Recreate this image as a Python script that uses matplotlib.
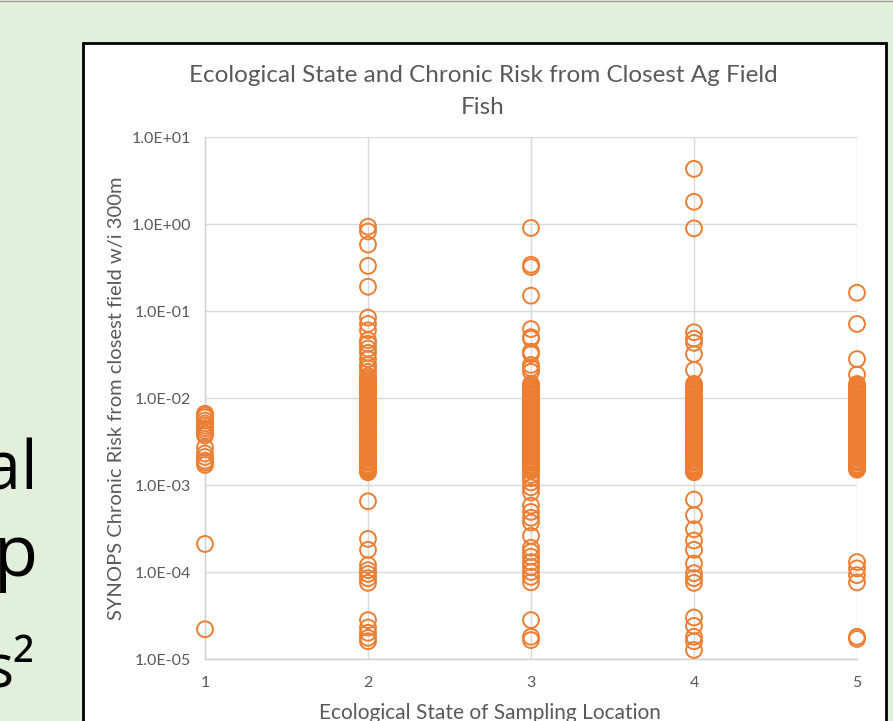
import matplotlib
matplotlib.use("Agg")
import matplotlib.pyplot as plt
import numpy as np
from matplotlib.patches import Rectangle
from matplotlib.lines import Line2D

plt.rcParams['font.family'] = ['Lato', 'DejaVu Sans']

# ---------------- data ----------------
categories = [1, 2, 3, 4, 5]
x_tick_labels = ["1", "2", "3", "4", "5"]
y_tick_values = [1e-5, 1e-4, 1e-3, 1e-2, 1e-1, 1e0, 1e1]
y_tick_labels = ["1.0E-05", "1.0E-04", "1.0E-03", "1.0E-02", "1.0E-01", "1.0E+00", "1.0E+01"]

risk_state1 = [6.6e-3, 6.3e-3, 6.0e-3, 5.5e-3, 5.1e-3, 4.8e-3, 4.5e-3, 4.2e-3,
               3.9e-3, 3.7e-3, 2.7e-3, 2.3e-3, 2.1e-3, 1.9e-3, 1.8e-3, 1.7e-3,
               2.1e-4, 2.2e-5]

risk_state2 = [0.93, 0.82, 0.58, 0.33, 0.19, 0.084, 0.071, 0.060, 0.046, 0.042,
               0.037, 0.033, 0.028, 0.024, 0.022, 0.020, 0.018, 0.017, 0.016,
               0.0152, 0.0145, 0.0139, 0.0134, 0.0128, 0.0123, 0.0118, 0.0113,
               0.0109, 0.0105, 0.0100, 0.0096, 0.0092, 0.0089, 0.0085, 0.0082,
               0.0078, 0.0075, 0.0072, 0.0069, 0.0067, 0.0064, 0.0061, 0.0059,
               0.0057, 0.0054, 0.0052, 0.0050, 0.0048, 0.0046, 0.0044, 0.0042,
               0.0041, 0.0039, 0.0037, 0.0036, 0.0035, 0.0033, 0.0032, 0.0030,
               0.0029, 0.0028, 0.0027, 0.0026, 0.0025, 0.0024, 0.0023, 0.0022,
               0.0021, 0.0020, 0.0019, 0.00185, 0.0018, 0.0017, 0.00165, 0.0016,
               0.00155, 0.0015, 0.00145, 0.0014,
               6.5e-4, 2.4e-4, 1.8e-4, 1.2e-4, 1.05e-4, 9.5e-5, 8.5e-5, 7.5e-5,
               2.8e-5, 2.3e-5, 2.0e-5, 1.75e-5, 1.6e-5]

risk_state3 = [0.90, 0.34, 0.32, 0.15, 0.062, 0.050, 0.048, 0.034, 0.032, 0.024,
               0.022, 0.020, 0.0145, 0.0139, 0.0134, 0.0128, 0.0123, 0.0118,
               0.0113, 0.0109, 0.0105, 0.0100, 0.0096, 0.0092, 0.0089, 0.0085,
               0.0082, 0.0078, 0.0075, 0.0072, 0.0069, 0.0067, 0.0064, 0.0061,
               0.0059, 0.0057, 0.0054, 0.0052, 0.0050, 0.0048, 0.0046, 0.0044,
               0.0042, 0.0041, 0.0039, 0.0037, 0.0036, 0.0035, 0.0033, 0.0032,
               0.0030, 0.0029, 0.0028, 0.0027, 0.0026, 0.0025, 0.0024, 0.0023,
               0.0022, 0.0021, 0.0020, 0.0019, 0.00185, 0.0018, 0.0017, 0.00165,
               0.0016, 0.00155, 0.0015, 0.00145,
               1.3e-3, 1.2e-3, 1.07e-3, 9.4e-4, 8.2e-4, 5.8e-4,
               4.9e-4, 4.2e-4, 3.7e-4, 2.6e-4, 1.9e-4, 1.7e-4, 1.5e-4, 1.3e-4, 1.14e-4,
               1.0e-4, 8.8e-5, 7.6e-5, 2.8e-5, 1.8e-5, 1.65e-5]

risk_state4 = [4.3, 1.8, 0.89, 0.057, 0.048, 0.043, 0.032, 0.021, 0.0145, 0.0139,
               0.0134, 0.0128, 0.0123, 0.0118, 0.0113, 0.0109, 0.0105, 0.0100,
               0.0096, 0.0092, 0.0089, 0.0085, 0.0082, 0.0078, 0.0075, 0.0072,
               0.0069, 0.0067, 0.0064, 0.0061, 0.0059, 0.0057, 0.0054, 0.0052,
               0.0050, 0.0048, 0.0046, 0.0044, 0.0042, 0.0041, 0.0039, 0.0037,
               0.0036, 0.0035, 0.0033, 0.0032, 0.0030, 0.0029, 0.0028, 0.0027,
               0.0026, 0.0025, 0.0024, 0.0023, 0.0022, 0.0021, 0.0020, 0.0019,
               0.00185, 0.0018, 0.0017, 0.00165, 0.0016, 0.00155, 0.0015,
               0.00145, 0.0014,
               6.8e-4, 4.5e-4, 3.1e-4, 2.3e-4, 1.8e-4, 1.25e-4,
               9.7e-5, 8.5e-5, 7.5e-5, 3.0e-5, 2.4e-5, 1.8e-5, 1.6e-5, 1.27e-5]

risk_state5 = [0.162, 0.071, 0.028, 0.0186, 0.0145, 0.0139, 0.0134, 0.0128,
               0.0123, 0.0118, 0.0113, 0.0109, 0.0105, 0.0100, 0.0096, 0.0092,
               0.0089, 0.0085, 0.0082, 0.0078, 0.0075, 0.0072, 0.0069, 0.0067,
               0.0064, 0.0061, 0.0059, 0.0057, 0.0054, 0.0052, 0.0050, 0.0048,
               0.0046, 0.0044, 0.0042, 0.0041, 0.0039, 0.0037, 0.0036, 0.0035,
               0.0033, 0.0032, 0.0030, 0.0029, 0.0028, 0.0027, 0.0026, 0.0025,
               0.0024, 0.0023, 0.0022, 0.0021, 0.0020, 0.0019, 0.00185, 0.0018,
               0.0017, 0.00165, 0.0016, 0.00155, 0.0015,
               1.3e-4, 1.1e-4, 9.2e-5, 7.6e-5, 1.8e-5, 1.7e-5]

risk_by_state = [risk_state1, risk_state2, risk_state3, risk_state4, risk_state5]

# ---------------- figure ----------------
W, H = 893, 721
fig = plt.figure(figsize=(W / 100, H / 100), dpi=100)
fig.patch.set_facecolor("#E2EFDA")

def fx(px):
    return px / W

def fy(py):
    return 1 - py / H

# thin grey line at top of slide
fig.add_artist(Line2D([0, 1], [fy(0.5), fy(0.5)], color="#9E9E9E", lw=1.0,
                      transform=fig.transFigure))

# chart box
box = Rectangle((fx(83), fy(760)), fx(886) - fx(83), fy(43) - fy(760),
                transform=fig.transFigure, facecolor="white", edgecolor="black",
                lw=2.0, zorder=0)
fig.add_artist(box)

# slide text fragments on the left (cut off by the page edge)
fig.text(fx(38), fy(490), "al", ha="right", va="baseline", fontsize=48,
         color="black", family=["Open Sans", "DejaVu Sans"])
fig.text(fx(38), fy(576), "p", ha="right", va="baseline", fontsize=52,
         color="black", family=["Open Sans", "DejaVu Sans"])
fig.text(fx(35), fy(688), "s\u00b2", ha="right", va="baseline", fontsize=44,
         color="black", family=["Open Sans", "DejaVu Sans"])

# axes
ax = fig.add_axes([fx(205), fy(659), fx(857) - fx(205), fy(137) - fy(659)])
ax.set_facecolor("white")
orange = "#ED7D31"
for cat, vals in zip(categories, risk_by_state):
    ax.scatter(np.full(len(vals), cat), vals, s=130, facecolors="none",
               edgecolors=orange, linewidths=1.4, zorder=3, clip_on=False)

ax.set_yscale("log")
ax.set_ylim(1e-5, 1e1)
ax.set_xlim(1, 5)
ax.set_xticks(categories)
ax.set_xticklabels(x_tick_labels)
ax.set_yticks(y_tick_values)
ax.set_yticklabels(y_tick_labels)
ax.yaxis.set_minor_locator(matplotlib.ticker.NullLocator())
ax.grid(True, color="#D9D9D9", lw=1.0, zorder=0)
ax.set_axisbelow(True)
for side in ["top", "right"]:
    ax.spines[side].set_visible(False)
for side in ["left", "bottom"]:
    ax.spines[side].set_color("#D0D0D0")
    ax.spines[side].set_linewidth(1.0)
ax.tick_params(length=0, colors="#595959", labelsize=11.5)
ax.tick_params(axis="y", pad=10)
ax.tick_params(axis="x", pad=12)

fig.text(fx(117), fy(398), "SYNOPS Chronic Risk from closest field w/i 300m",
         rotation=90, ha="center", va="center", color="#595959", fontsize=14.5)
fig.text(fx(490), fy(713), "Ecological State of Sampling Location", ha="center",
         va="center", color="#595959", fontsize=15)
fig.text(fx(483), fy(75), "Ecological State and Chronic Risk from Closest Ag Field",
         ha="center", va="center", color="#595959", fontsize=17.5)
fig.text(fx(483), fy(108), "Fish", ha="center", va="center", color="#595959",
         fontsize=17.5)

fig.savefig("out.png", dpi=100, facecolor=fig.get_facecolor())
